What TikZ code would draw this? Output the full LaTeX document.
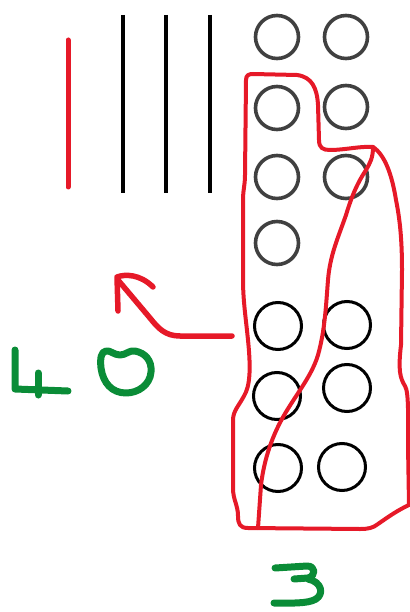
\documentclass[tikz,border=0pt]{standalone}
\usetikzlibrary{calc}
\definecolor{myred}{RGB}{230,25,40}
\definecolor{mygreen}{RGB}{10,140,55}
\begin{document}
\begin{tikzpicture}[x=1pt,y=-1pt,
  redpen/.style={draw=myred,line width=4pt,line cap=round,line join=round},
  redthick/.style={draw=myred,line width=5.5pt,line cap=round,line join=round},
  greenpen/.style={draw=mygreen,line width=7pt,line cap=round,line join=round},
  blackbar/.style={draw=black,line width=4pt},
  greyring/.style={draw=black!75,line width=3.6pt},
  blackring/.style={draw=black,line width=3pt}]
\useasboundingbox (0,0) rectangle (409,612);
% red and black bars
\draw[draw=myred,line width=5pt,line cap=round] (68,40) -- (68,187);
\draw[blackbar] (123,15) -- (123,193);
\draw[blackbar] (166,15) -- (166,193);
\draw[blackbar] (210,15) -- (210,193);
% grey rings
\foreach \p in {(277,37),(346,37),(277,108),(346,107),(277,177),(346,177),(277,243)}
  \draw[greyring] \p circle (21.5);
% black rings
\foreach \p in {(278,326),(347,325),(277,396),(347,388),(278,468),(342,467)}
  \draw[blackring] \p circle (23.5);
% red outline
\draw[redpen] (246,80) .. controls (246,75) and (249,74) .. (253,74)
  -- (297,75) .. controls (312,77) and (317,88) .. (318,105)
  -- (319,140) .. controls (319,148) and (323,150) .. (330,150)
  .. controls (345,150) and (360,146) .. (373,147)
  .. controls (385,155) and (392,175) .. (396,200)
  .. controls (400,220) and (402,240) .. (402,270)
  -- (401,345) .. controls (398,370) and (400,378) .. (405,386)
  .. controls (409,392) and (408,420) .. (408,445)
  -- (409,505)
  .. controls (398,510) and (388,517) .. (378,524)
  .. controls (373,528) and (368,529) .. (360,529)
  -- (248,528) .. controls (240,528) and (238,524) .. (238,516)
  .. controls (238,505) and (233,500) .. (233,488)
  -- (233,420) .. controls (233,410) and (240,405) .. (246,392)
  .. controls (251,380) and (250,360) .. (248,340)
  .. controls (246,320) and (243,300) .. (243,280)
  -- (243,200) .. controls (243,190) and (245,185) .. (245,175)
  -- (246,80);
% red inner stroke
\draw[redpen] (373,147) .. controls (373,158) and (370,163) .. (366,170)
  .. controls (358,182) and (352,195) .. (346,215)
  .. controls (338,238) and (330,255) .. (328,280)
  .. controls (326,305) and (325,330) .. (318,355)
  .. controls (312,375) and (298,392) .. (286,412)
  .. controls (272,435) and (264,460) .. (261,485)
  -- (258,528);
% red arrow
\draw[redthick] (232,336) -- (180,336) .. controls (165,336) and (158,328) .. (150,318)
  -- (118,280);
\draw[redthick] (118,311) -- (117,277) .. controls (125,274) and (140,274) .. (153,287);
% green F
\draw[greenpen] (15,350) -- (15,389) -- (68,391);
\draw[greenpen] (38,373) -- (38,395);
% green O
\draw[greenpen] (106,351) .. controls (110,350) and (114,355) .. (120,355)
  .. controls (126,355) and (129,350) .. (135,351)
  .. controls (145,353) and (152,360) .. (151,372)
  .. controls (150,385) and (138,393) .. (126,393)
  .. controls (112,393) and (103,383) .. (101,368)
  .. controls (100,358) and (101,352) .. (106,351);
% green 3
\draw[greenpen] (275,568) -- (307,566) .. controls (316,566) and (316,576) .. (308,578)
  -- (294,579);
\draw[greenpen] (308,579) .. controls (322,582) and (324,594) .. (316,599)
  .. controls (308,604) and (290,603) .. (274,603);
\end{tikzpicture}
\end{document}
